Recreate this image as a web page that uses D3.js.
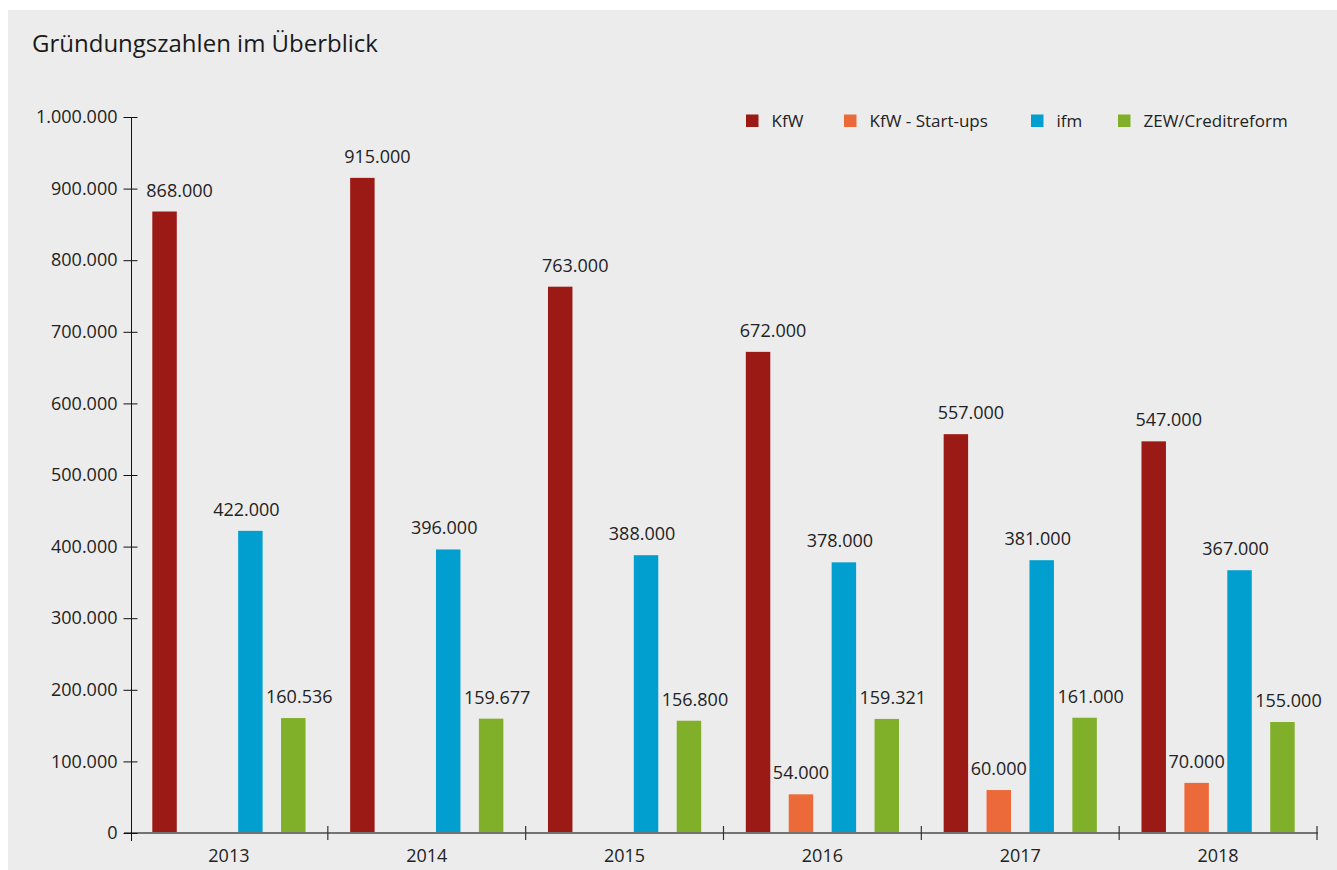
<!DOCTYPE html>
<html>
<head>
<meta charset="utf-8">
<script src="https://cdn.jsdelivr.net/npm/d3@7"></script>
<style>
  html, body { margin: 0; padding: 0; background: #fff; }
  svg { display: block; font-family: 'Open Sans', sans-serif; }
</style>
</head>
<body>
<svg id="chart" width="1337" height="870"></svg>
<script>
const years = ['2013', '2014', '2015', '2016', '2017', '2018'];
const seriesNames = ['KfW', 'KfW - Start-ups', 'ifm', 'ZEW/Creditreform'];
const seriesColors = ['#9b1a16', '#ec6a3a', '#009fcf', '#80af29'];
const kfw = [868000, 915000, 763000, 672000, 557000, 547000];
const kfwStartups = [null, null, null, 54000, 60000, 70000];
const ifm = [422000, 396000, 388000, 378000, 381000, 367000];
const zew = [160536, 159677, 156800, 159321, 161000, 155000];
const yTicks = [0, 100000, 200000, 300000, 400000, 500000, 600000, 700000, 800000, 900000, 1000000];

const allSeries = [kfw, kfwStartups, ifm, zew];
// value labels are not quite centred on their bars in the original
const labelShift = [15, 0, -4, 6];

const svg = d3.select('#chart');
const fmt = (v) => d3.format(',')(v).replace(/,/g, '.');

// grey panel
svg.append('rect')
  .attr('x', 8).attr('y', 10)
  .attr('width', 1329).attr('height', 860)
  .attr('fill', '#ececec');

svg.append('text')
  .attr('x', 32).attr('y', 52)
  .attr('font-size', '24px')
  .attr('fill', '#1a1a1a')
  .text('Gründungszahlen im Überblick');

const x0 = d3.scaleBand().domain(years).range([130, 1317]);
const x1 = d3.scaleBand().domain(d3.range(4))
  .range([0, x0.bandwidth()])
  .paddingInner(0.43)
  .paddingOuter(0.52);
const y = d3.scaleLinear().domain([0, 1000000]).range([833, 117]);

// bars
const g = svg.append('g');
allSeries.forEach((vals, si) => {
  const pts = years.map((yr, i) => ({ yr, v: vals[i] })).filter((d) => d.v !== null);
  g.selectAll(null)
    .data(pts)
    .enter()
    .append('rect')
    .attr('x', (d) => x0(d.yr) + x1(si))
    .attr('y', (d) => y(d.v))
    .attr('width', x1.bandwidth())
    .attr('height', (d) => y(0) - y(d.v))
    .attr('fill', seriesColors[si]);

  g.selectAll(null)
    .data(pts)
    .enter()
    .append('text')
    .attr('x', (d) => x0(d.yr) + x1(si) + x1.bandwidth() / 2 + labelShift[si])
    .attr('y', (d) => y(d.v) - 15)
    .attr('text-anchor', 'middle')
    .attr('font-size', '18px')
    .attr('fill', '#222')
    .text((d) => fmt(d.v));
});

// x axis line (grey) + boundary ticks
svg.append('line')
  .attr('x1', 124).attr('x2', 1318)
  .attr('y1', y(0)).attr('y2', y(0))
  .attr('stroke', '#737373')
  .attr('stroke-width', 2);

const bounds = years.map((yr) => x0(yr) + x0.bandwidth());
svg.selectAll(null)
  .data(bounds)
  .enter()
  .append('line')
  .attr('x1', (d) => d).attr('x2', (d) => d)
  .attr('y1', y(0) - 7).attr('y2', y(0) + 7)
  .attr('stroke', '#333')
  .attr('stroke-width', 1.2);

svg.selectAll(null)
  .data(years)
  .enter()
  .append('text')
  .attr('x', (d) => x0(d) + x0.bandwidth() / 2)
  .attr('y', 862)
  .attr('text-anchor', 'middle')
  .attr('font-size', '18px')
  .attr('fill', '#222')
  .text((d) => d);

// y axis
const yAxis = svg.append('g')
  .attr('transform', 'translate(131.5,0)')
  .call(d3.axisLeft(y).tickValues(yTicks).tickSize(8).tickPadding(6).tickFormat(fmt));
yAxis.select('.domain').remove();
yAxis.append('line')
  .attr('x1', 0).attr('x2', 0)
  .attr('y1', 117).attr('y2', 841)
  .attr('stroke', '#111');
yAxis.selectAll('.tick line')
  .attr('x1', 6)
  .attr('stroke', '#111');
yAxis.selectAll('.tick text')
  .attr('font-family', 'Open Sans, sans-serif')
  .attr('font-size', '18px')
  .attr('fill', '#222')
  .attr('x', -14);

// legend
const legendX = [746, 844, 1031, 1118];
const legend = svg.append('g');
seriesNames.forEach((name, i) => {
  legend.append('rect')
    .attr('x', legendX[i]).attr('y', 114.5)
    .attr('width', 12.5).attr('height', 12.5)
    .attr('fill', seriesColors[i]);
  legend.append('text')
    .attr('x', legendX[i] + 25.5).attr('y', 127)
    .attr('font-size', '17px')
    .attr('fill', '#222')
    .text(name);
});
</script>
</body>
</html>
